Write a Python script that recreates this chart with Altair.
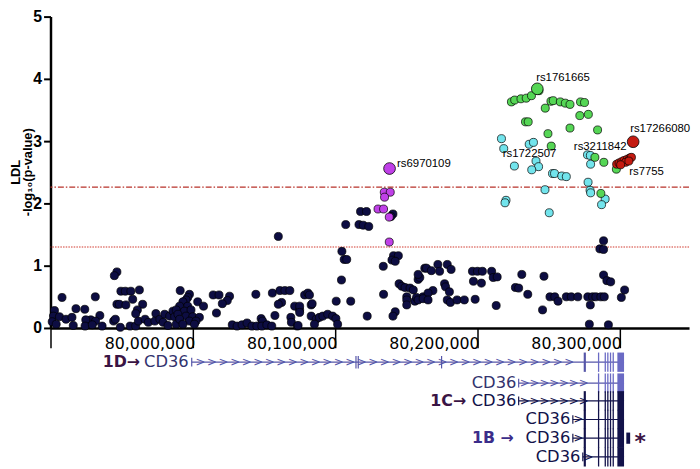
import altair as alt
import pandas as pd
import numpy as np

# ---------------- association data (position in kb, -log10 p) ----------------
navy_kb = [79946.7, 79944.9, 79949.5, 79952.6, 79956.5, 79962.5, 79908.1, 79931.5, 79946.7, 79948.4,
           79953.0, 79957.8, 79964.8, 79917.9, 79924.1, 79961.1, 79959.9, 79974.1, 79902.8, 79902.1,
           79906.3, 79910.9, 79915.1, 79934.7, 79928.3, 79924.8, 79931.7, 79944.4, 79945.6, 79901.2,
           79904.0, 79916.0, 79924.3, 79929.4, 79936.3, 79949.1, 79956.0, 79959.9, 79961.8, 79966.5,
           79968.8, 79973.4, 79976.9, 79980.3, 79983.8, 79986.1, 79987.3, 79979.2, 79982.6, 79988.4,
           79991.2, 79997.7, 79996.5, 79995.3, 79993.1, 80003.5, 80007.6, 79990.8, 79996.5, 79988.4,
           79994.2, 79998.8, 79989.6, 79995.3, 80000.0, 80004.7, 79990.8, 79997.7, 80002.3, 79993.1,
           80001.2, 80014.4, 80018.5, 80025.9, 80024.3, 80020.8, 80016.7, 80044.4, 80056.0, 80061.3,
           80064.8, 80068.3, 80062.5, 80060.2, 80057.8, 80071.7, 80075.2, 80069.0, 80069.4, 80048.1,
           80049.1, 80027.8, 80031.2, 80034.7, 80038.2, 80041.7, 80045.1, 80048.6, 80052.1, 80055.6,
           80073.6, 80060.2, 80118.0, 80122.2, 80107.6, 80116.9, 80119.9, 80123.8, 80140.8, 80139.4,
           80104.9, 80106.5, 80108.3, 80141.2, 80144.6, 80140.1, 80142.4, 80134.0, 80104.6, 80100.9,
           80111.1, 80134.2, 80122.7, 80142.4, 80140.8, 80078.7, 80081.0, 80082.1, 80083.3, 80084.0,
           80075.2, 80075.2, 80083.3, 80086.8, 80089.1, 80091.5, 80094.9, 80098.4, 80100.7, 80085.6,
           80101.9, 80074.1, 80145.1, 80147.0, 80149.3, 80152.8, 80155.1, 80158.5, 80159.7, 80150.5,
           80150.5, 80150.5, 80156.2, 80162.0, 80163.2, 80158.5, 80164.4, 80167.8, 80172.4, 80173.6,
           80179.0, 80181.7, 80177.1, 80177.8, 80180.5, 80168.9, 80165.5, 80157.4, 80158.5, 80162.0,
           80165.5, 80179.0, 80181.2, 80185.9, 80191.0, 80198.6, 80196.7, 80200.2, 80203.7, 80197.4,
           80203.0, 80210.2, 80211.3, 80214.1, 80231.4, 80247.0, 80226.9, 80229.2, 80235.6, 80251.2,
           80213.4, 80246.0, 80254.6, 80256.9, 80262.7, 80266.2, 80270.8, 80277.8, 80281.2, 80283.5,
           80287.0, 80289.4, 80279.6, 80288.9, 80286.3, 80288.9, 80288.9, 80291.2, 80293.9, 80301.4,
           80303.7, 80278.9, 80292.3]
navy_val = [0.90, 0.84, 0.59, 0.59, 0.59, 0.61, 0.49, 0.50, 0.38, 0.38,
            0.37, 0.46, 0.38, 0.31, 0.30, 0.29, 0.23, 0.23, 0.28, 0.19,
            0.18, 0.14, 0.17, 0.20, 0.13, 0.13, 0.11, 0.11, 0.14, 0.10,
            0.06, 0.04, 0.03, 0.05, 0.03, 0.01, 0.03, 0.03, 0.11, 0.14,
            0.09, 0.11, 0.14, 0.22, 0.19, 0.27, 0.18, 0.09, 0.04, 0.06,
            0.60, 0.54, 0.49, 0.45, 0.42, 0.42, 0.35, 0.35, 0.35, 0.29,
            0.27, 0.29, 0.22, 0.19, 0.18, 0.17, 0.14, 0.11, 0.11, 0.06,
            0.06, 0.53, 0.53, 0.51, 0.44, 0.39, 0.24, 0.54, 0.56, 0.60,
            0.60, 0.60, 0.41, 0.38, 0.20, 0.35, 0.29, 0.17, 0.09, 0.15,
            0.11, 0.05, 0.03, 0.05, 0.08, 0.03, 0.03, 0.03, 0.05, 0.03,
            0.03, 1.47, 1.87, 1.87, 1.66, 1.66, 1.65, 1.63, 1.83, 1.79,
            1.23, 1.10, 1.10, 1.16, 1.16, 1.09, 1.07, 0.99, 0.77, 0.43,
            0.43, 0.54, 0.19, 0.26, 0.19, 0.53, 0.56, 0.53, 0.37, 0.39,
            0.35, 0.25, 0.19, 0.14, 0.17, 0.19, 0.22, 0.19, 0.15, 0.06,
            0.06, 0.04, 0.71, 0.67, 0.65, 0.64, 0.61, 0.78, 0.81, 0.50,
            0.45, 0.37, 0.43, 0.50, 0.96, 0.86, 0.96, 0.92, 1.02, 0.91,
            1.02, 0.94, 0.71, 0.66, 0.58, 0.60, 0.56, 0.49, 0.45, 0.47,
            0.45, 0.45, 0.41, 0.45, 0.45, 0.46, 0.91, 0.91, 0.91, 0.75,
            0.72, 0.91, 0.81, 0.82, 0.86, 0.83, 0.65, 0.64, 0.54, 0.50,
            0.36, 0.29, 0.50, 0.43, 0.50, 0.50, 0.50, 0.50, 0.50, 0.50,
            0.50, 0.50, 0.37, 1.40, 1.27, 1.26, 0.85, 0.76, 0.74, 0.49,
            0.61, 0.06, 0.05]

cyan_kb = [80217.1, 80218.7, 80226.2, 80236.6, 80239.6, 80241.4, 80243.2, 80238.4, 80253.0, 80254.4,
           80259.5, 80262.7, 80277.6, 80279.6, 80279.8, 80278.0, 80279.4, 80279.8, 80247.7, 80220.3,
           80219.6, 80250.7, 80290.0, 80287.5]
cyan_val = [3.04, 2.88, 2.60, 2.95, 2.98, 2.68, 2.59, 2.54, 2.48, 2.48,
            2.44, 2.43, 2.78, 2.77, 2.63, 2.34, 2.21, 2.17, 2.22, 2.05,
            2.01, 1.85, 2.07, 1.98]

green_kb = [80243.5, 80224.1, 80226.4, 80230.8, 80234.5, 80238.2, 80251.9, 80253.5, 80258.5, 80262.0,
            80265.3, 80272.7, 80275.5, 80247.9, 80272.2, 80278.2, 80234.0, 80235.9, 80265.3, 80284.7,
            80249.8, 80252.1, 80282.8, 80289.1, 80297.9, 80287.0]
green_val = [3.81, 3.63, 3.66, 3.68, 3.69, 3.73, 3.64, 3.65, 3.63, 3.61,
             3.59, 3.63, 3.62, 3.53, 3.41, 3.43, 3.31, 3.31, 3.21, 3.18,
             3.12, 2.92, 2.74, 2.66, 2.55, 2.16]

magenta_kb = [80134.7, 80138.9, 80134.9, 80130.3, 80134.2, 80138.2, 80138.2]
magenta_val = [2.18, 2.18, 2.10, 1.91, 1.91, 1.78, 1.38]

red_kb = [80298.1, 80299.8, 80301.6, 80303.3, 80305.5, 80307.4, 80308.5, 80304.4, 80306.7, 80300.9]
red_val = [2.63, 2.65, 2.67, 2.69, 2.71, 2.73, 2.74, 2.66, 2.68, 2.62]

# lead SNPs
lead_kb = [80138.4, 80242.3, 80309.7]
lead_val = [2.56, 3.84, 2.99]
lead_group = ["magenta", "green", "red"]

# SNP labels
snp_names = ["rs6970109", "rs1761665", "rs17266080", "rs3211842", "rs1722507", "rs7755"]
snp_kb = [80143.7, 80241.5, 80307.6, 80268.0, 80218.0, 80306.9]
snp_val = [2.63, 4.01, 3.19, 2.91, 2.79, 2.51]

thresholds = [2.26, 1.3]

x_ticks = [79900000, 80000000, 80100000, 80200000, 80300000]
y_ticks = [0, 1, 2, 3, 4, 5]

# ---------------- CD36 transcripts ----------------
tx_row = [1, 2, 3, 4, 5, 6]
tx_level = [-0.55, -0.885, -1.17, -1.47, -1.77, -2.07]
tx_start = [79999.3, 80229.2, 80229.2, 80267.3, 80267.3, 80274.3]
tx_end = [80303.3, 80303.3, 80303.3, 80303.3, 80303.3, 80303.3]
tx_label_end = [79997.2, 80227.6, 80227.6, 80265.5, 80265.5, 80272.6]
tx_name = ["CD36"] * 6
tx_light = [True, True, False, False, False, False]
promoter_row = [1, 3, 5]
promoter_text = ["1D\u2192", "1C\u2192", "1B \u2192"]
promoter_end = [79963.0, 80192.3, 80225.7]

exon_thin = [80285.4, 80290.1, 80291.9, 80293.8, 80295.7]
exon_first = 80275.7
exon_last = (80298.6, 80303.3)
row1_extra_exons = [80114.8, 80116.4, 80175.0]
row5_extra = (80304.9, 80307.6)
star_kb = 80314.6

# ---------------- build tables ----------------
def pts(kb, val, group):
    return pd.DataFrame({"pos": np.array(kb) * 1000, "val": val, "group": group})

df_pts = pd.concat([
    pts(navy_kb, navy_val, "navy"),
    pts(cyan_kb, cyan_val, "cyan"),
    pts(green_kb, green_val, "green"),
    pts(magenta_kb, magenta_val, "magenta"),
    pts(red_kb, red_val, "red"),
], ignore_index=True)
df_pts["order"] = df_pts["group"].map({"navy": 0, "cyan": 1, "green": 2, "magenta": 3, "red": 4})
df_lead = pts(lead_kb, lead_val, lead_group)
df_lab = pd.DataFrame({"pos": np.array(snp_kb) * 1000, "val": snp_val, "name": snp_names})

LIGHT = "#5656a8"
LIGHT_EX = "#6a6ac4"
DARK = "#12124a"
PURPLE = "#3a1444"
BLUEPURPLE = "#3b2d8a"
color_scale = alt.Scale(domain=["navy", "cyan", "green", "magenta", "red"],
                        range=["#0d0d42", "#72e4ec", "#55d655", "#c040e8", "#c41a10"])

xscale = alt.Scale(domain=[79900000, 80349000], nice=False, zero=False)
yscale = alt.Scale(domain=[0, 5], nice=False, zero=False)

X = alt.X("pos:Q", scale=xscale, axis=alt.Axis(
    values=x_ticks, title=None, grid=False, domainWidth=2.5, domainColor="black",
    tickColor="black", tickWidth=1.5, tickSize=20, labelAlign="right", labelBaseline="top",
    labelPadding=-12, labelOffset=2, labelFont="DejaVu Sans", labelFontSize=16, labelColor="black",
    labelExpr="datum.value > 79950000 ? format(datum.value, ',') : ''"))
Y = alt.Y("val:Q", scale=yscale, axis=alt.Axis(
    values=y_ticks, format="d", title=["LDL", "-log\u2081\u2080(p-value)"], grid=False, domainWidth=2.5,
    domainColor="black", tickColor="black", tickWidth=2, tickSize=7, labelPadding=2,
    labelFont="Liberation Sans", labelFontSize=16, labelFontWeight="bold", labelColor="black",
    titleFont="Liberation Sans", titleFontSize=13, titleFontWeight="bold", titleColor="black",
    titleLineHeight=12, titleX=-28, titleY=157, titleAngle=-90, titleBaseline="bottom",
    titleAlign="center"))

points = alt.Chart(df_pts).mark_circle(size=66, opacity=1, stroke="black", strokeWidth=0.7).encode(
    x=X, y=Y, color=alt.Color("group:N", scale=color_scale, legend=None),
    order=alt.Order("order:Q"))

lead = alt.Chart(df_lead).mark_circle(size=140, opacity=1, stroke="black", strokeWidth=0.8).encode(
    x="pos:Q", y="val:Q", color=alt.Color("group:N", scale=color_scale, legend=None))

labels = alt.Chart(df_lab).mark_text(
    align="left", baseline="middle", font="Liberation Sans", fontSize=11.5, color="black").encode(
    x="pos:Q", y="val:Q", text="name:N")

thr_df = pd.DataFrame({"val": thresholds})
thr1 = alt.Chart(thr_df.iloc[[0]]).mark_rule(color="#b8322a", strokeWidth=1.3,
                                              strokeDash=[6, 2, 1.5, 2]).encode(y="val:Q")
thr2 = alt.Chart(thr_df.iloc[[1]]).mark_rule(color="#d0362a", strokeWidth=1,
                                              strokeDash=[1.5, 1.2]).encode(y="val:Q")

# gene track tables
tx = pd.DataFrame({"row": tx_row, "lvl": tx_level, "start": np.array(tx_start) * 1000,
                   "end": np.array(tx_end) * 1000, "lab": np.array(tx_label_end) * 1000,
                   "name": tx_name, "light": tx_light})
tx["top"] = tx["lvl"] + 0.155
tx["bot"] = tx["lvl"] - 0.155

def tx_layers(sub, col, txtcol, excol, first_rows):
    lines = alt.Chart(sub).mark_rule(color=col, strokeWidth=1.2).encode(
        x="start:Q", x2="end:Q", y="lvl:Q")
    sb = sub.assign(t=sub["lvl"] + 0.07, b=sub["lvl"] - 0.07)
    startbar = alt.Chart(sb).mark_rule(color=col, strokeWidth=1.2).encode(
        x="start:Q", y="t:Q", y2="b:Q")
    names = alt.Chart(sub).mark_text(align="right", baseline="middle", font="DejaVu Sans",
                                     fontSize=16.5, color=txtcol).encode(
        x="lab:Q", y="lvl:Q", text="name:N")
    rows = []
    for _, r in sub.iterrows():
        for e in exon_thin:
            rows.append({"pos": e * 1000, "top": r["lvl"] + 0.155, "bot": r["lvl"] - 0.155})
    ex = alt.Chart(pd.DataFrame(rows)).mark_rule(color=excol, strokeWidth=1.3).encode(
        x="pos:Q", y="top:Q", y2="bot:Q")
    blk = pd.DataFrame({"s": [exon_last[0] * 1000] * len(sub), "e": [exon_last[1] * 1000] * len(sub),
                        "top": list(sub["top"]), "bot": list(sub["bot"])})
    block = alt.Chart(blk).mark_rect(color=excol).encode(x="s:Q", x2="e:Q", y="top:Q", y2="bot:Q")
    fr = sub[sub["row"].isin(first_rows)]
    fe = pd.DataFrame({"pos": [exon_first * 1000] * len(fr), "top": list(fr["top"]),
                       "bot": list(fr["bot"])})
    first = alt.Chart(fe).mark_rule(color=col, strokeWidth=2.2).encode(
        x="pos:Q", y="top:Q", y2="bot:Q")
    return [lines, startbar, names, ex, block, first]

light_layers = tx_layers(tx[tx["light"]], LIGHT, "#33336e", LIGHT_EX, [1])
dark_layers = tx_layers(tx[~tx["light"]], DARK, DARK, DARK, [3, 4, 5, 6])

# extra small exons on row 1
r1 = tx.iloc[0]
extra = pd.DataFrame({"pos": np.array(row1_extra_exons) * 1000, "top": r1["lvl"] + 0.1,
                      "bot": r1["lvl"] - 0.1})
extra_ex = alt.Chart(extra).mark_rule(color=LIGHT, strokeWidth=1.2).encode(
    x="pos:Q", y="top:Q", y2="bot:Q")

# direction arrows
arr_l, arr_d = [], []
for p in np.arange(80005.5, 80272, 8.1):
    arr_l.append({"pos": p * 1000, "lvl": tx_level[0]})
for p in np.arange(80233.5, 80276, 6.9):
    arr_l.append({"pos": p * 1000, "lvl": tx_level[1]})
    arr_d.append({"pos": p * 1000, "lvl": tx_level[2]})
for i in [3, 4, 5]:
    arr_d.append({"pos": (tx_start[i] + 4.0) * 1000, "lvl": tx_level[i]})
arrows_l = alt.Chart(pd.DataFrame(arr_l)).mark_text(
    text=">", fontSize=12, font="DejaVu Sans", baseline="middle", align="center", color=LIGHT).encode(
    x="pos:Q", y="lvl:Q")
arrows_d = alt.Chart(pd.DataFrame(arr_d)).mark_text(
    text=">", fontSize=12, font="DejaVu Sans", baseline="middle", align="center", color=DARK).encode(
    x="pos:Q", y="lvl:Q")

# promoter labels
pr = pd.DataFrame({"pos": np.array(promoter_end) * 1000,
                   "lvl": [tx_level[r - 1] for r in promoter_row], "t": promoter_text})
prom_a = alt.Chart(pr.iloc[:2]).mark_text(align="right", baseline="middle", font="DejaVu Sans",
                                          fontSize=16, fontWeight="bold", color=PURPLE).encode(
    x="pos:Q", y="lvl:Q", text="t:N")
prom_b = alt.Chart(pr.iloc[2:]).mark_text(align="right", baseline="middle", font="DejaVu Sans",
                                          fontSize=16, fontWeight="bold", color=BLUEPURPLE).encode(
    x="pos:Q", y="lvl:Q", text="t:N")

# row 5 extra exon and star
r5 = tx.iloc[4]
x5 = pd.DataFrame({"s": [row5_extra[0] * 1000], "e": [row5_extra[1] * 1000],
                   "top": [r5["lvl"] + 0.09], "bot": [r5["lvl"] - 0.09]})
row5_block = alt.Chart(x5).mark_rect(color=DARK).encode(x="s:Q", x2="e:Q", y="top:Q", y2="bot:Q")
star = alt.Chart(pd.DataFrame({"pos": [star_kb * 1000], "lvl": [r5["lvl"]]})).mark_text(
    text="*", font="DejaVu Sans", fontSize=22, fontWeight="bold", color=PURPLE,
    baseline="middle", align="center", dy=4).encode(x="pos:Q", y="lvl:Q")

chart = alt.layer(
    thr1, thr2, points, lead, labels,
    *light_layers, *dark_layers, extra_ex, arrows_l, arrows_d, prom_a, prom_b, row5_block, star
).properties(
    width=646, height=315,
    autosize=alt.AutoSizeParams(type="none"),
    padding={"left": 43, "top": 6, "right": 3, "bottom": 140},
).configure_view(stroke=None)

chart.save("out.html", embed_options={"renderer": "svg", "actions": False})
